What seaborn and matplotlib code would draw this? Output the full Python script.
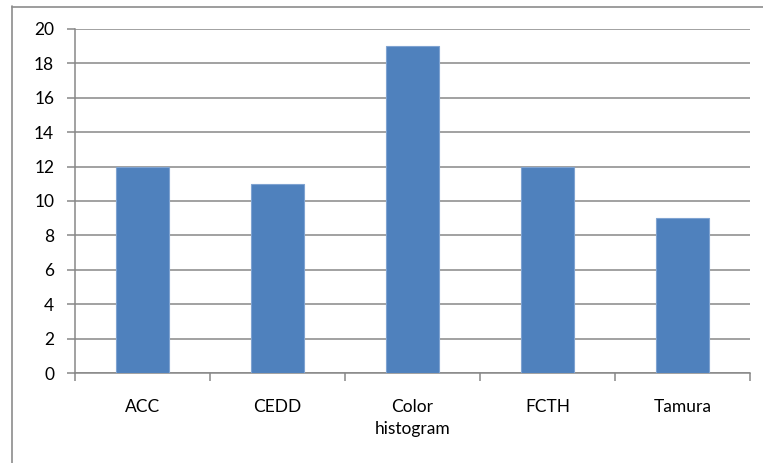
import matplotlib
matplotlib.use("Agg")
import matplotlib.pyplot as plt
import seaborn as sns
import pandas as pd
from matplotlib.lines import Line2D

categories = ["ACC", "CEDD", "Color\nhistogram", "FCTH", "Tamura"]
values = [12, 11, 19, 12, 9]
y_ticks = [0, 2, 4, 6, 8, 10, 12, 14, 16, 18, 20]

df = pd.DataFrame({"feature": categories, "count": values})

sns.set_theme(style="white")
plt.rcParams["font.family"] = ["Lato", "DejaVu Sans"]

W, H = 763, 463
fig = plt.figure(figsize=(W / 100, H / 100), dpi=100)
ax = fig.add_axes([75 / W, 1 - 373 / H, 675 / W, 344 / H])

sns.barplot(data=df, x="feature", y="count", color="#4F81BD", width=0.39,
            saturation=1, ax=ax, zorder=3, edgecolor="#7FA3D1", linewidth=0.8)

ax.set_ylim(0, 20)
ax.set_xlim(-0.5, len(categories) - 0.5)
ax.set_yticks(y_ticks)
ax.set_yticklabels([str(t) for t in y_ticks], fontsize=12.5, color="black")
ax.yaxis.grid(True, color="#878787", linewidth=1.1, zorder=0)
ax.set_axisbelow(True)
ax.set_xlabel("")
ax.set_ylabel("")

for side in ["top", "right"]:
    ax.spines[side].set_visible(False)
for side in ["left", "bottom"]:
    ax.spines[side].set_color("#878787")
    ax.spines[side].set_linewidth(1.1)

ax.tick_params(axis="y", which="major", length=6, width=1.1, color="#878787",
               direction="out", left=True, pad=9)
ax.tick_params(axis="x", which="major", length=0, pad=19, labelsize=12.5,
               labelcolor="black")
ax.set_xticks(range(len(categories)))
ax.set_xticklabels(categories, va="top", linespacing=1.45)
ax.set_xticks([i - 0.5 for i in range(len(categories) + 1)], minor=True)
ax.tick_params(axis="x", which="minor", length=6, width=1.1, color="#878787",
               direction="out", bottom=True)

# chart area frame
fig.add_artist(Line2D([11.5 / W, 11.5 / W], [0, 1 - 6 / H], transform=fig.transFigure,
                      color="#8c8c8c", linewidth=1.2))
fig.add_artist(Line2D([11.5 / W, 1], [1 - 6.5 / H, 1 - 6.5 / H], transform=fig.transFigure,
                      color="#8c8c8c", linewidth=1.2))

fig.savefig("out.png", dpi=100, facecolor="white")
